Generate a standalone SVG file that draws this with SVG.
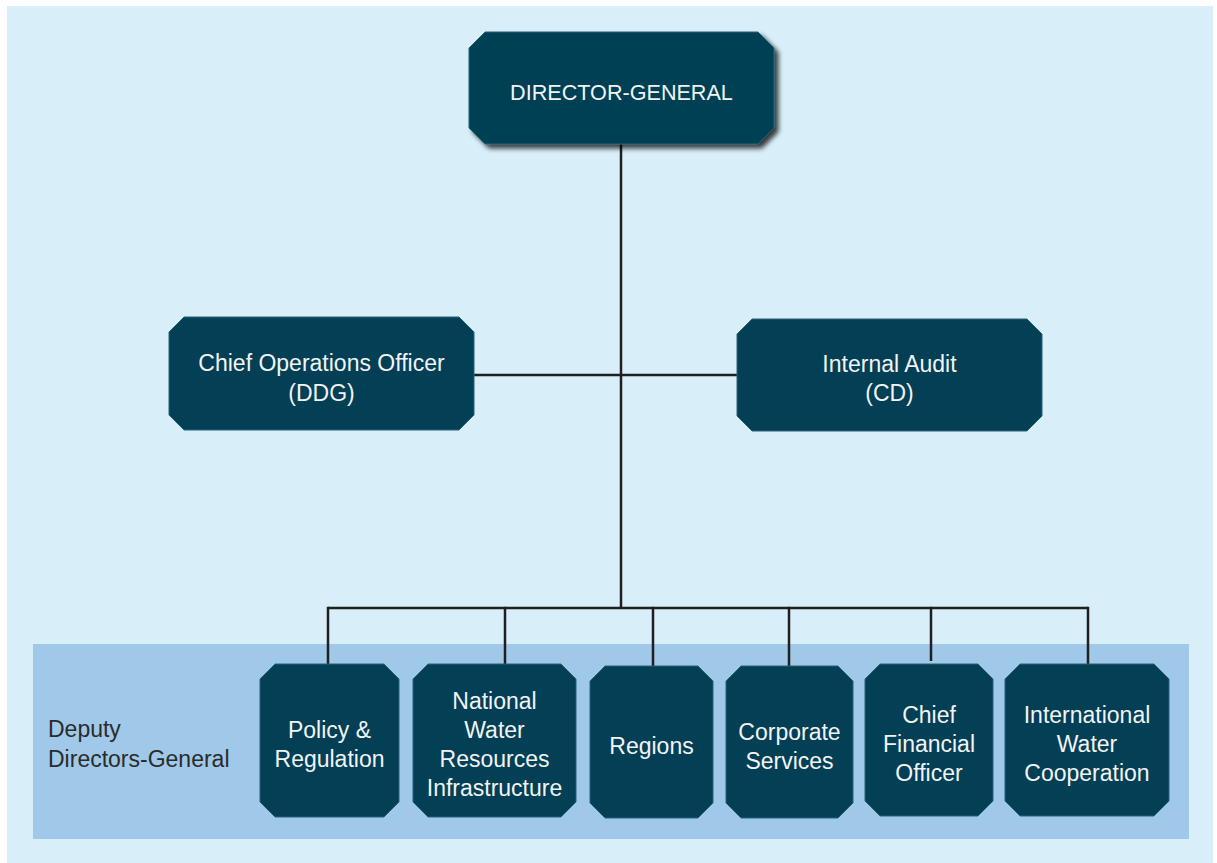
<svg xmlns="http://www.w3.org/2000/svg" width="1217" height="863" viewBox="0 0 1217 863">
<style>
.node{fill:#033f55;stroke:#2a6378;stroke-width:1}
.t{font-family:"Liberation Sans",Arial,sans-serif;font-size:23px;fill:#f2f4f4;text-anchor:middle}
.lbl{font-family:"Liberation Sans",Arial,sans-serif;font-size:23px;fill:#2b2b2b}
.conn{stroke:#1f1f1f;stroke-width:2.5;fill:none}
</style>
<defs>
<filter id="sh" x="-10%" y="-20%" width="130%" height="150%">
<feGaussianBlur in="SourceAlpha" stdDeviation="2.5"/>
<feOffset dx="4" dy="4" result="b"/>
<feComponentTransfer><feFuncA type="linear" slope="0.75"/></feComponentTransfer>
<feMerge><feMergeNode/><feMergeNode in="SourceGraphic"/></feMerge>
</filter>
</defs>
<rect x="0" y="0" width="1217" height="863" fill="#ffffff"/>
<rect x="7" y="6" width="1206" height="857" fill="#d8eff9"/>
<rect x="33" y="644" width="1156" height="195" fill="#9fc8e9"/>
<g id="connectors">
<path class="conn" d="M621,144 V608"/>
<path class="conn" d="M474,375 H737"/>
<path class="conn" d="M328,608 H1088"/>
<path class="conn" d="M328,606.8 V665"/>
<path class="conn" d="M505,606.8 V664"/>
<path class="conn" d="M653,606.8 V666"/>
<path class="conn" d="M789,606.8 V667"/>
<path class="conn" d="M931,606.8 V661"/>
<path class="conn" d="M1088,606.8 V665"/>
</g>
<g id="dg">
<polygon class="node" filter="url(#sh)" points="485,32 758,32 774,48 774,128 758,144 485,144 469,128 469,48"/>
<text class="t" x="621.5" y="99.5" style="font-size:21.6px">DIRECTOR-GENERAL</text>
</g>
<g id="coo">
<polygon class="node" points="184,317 459,317 474,332 474,415 459,430 184,430 169,415 169,332"/>
<text class="t" x="321.5" y="371">Chief Operations Officer</text>
<text class="t" x="321.5" y="400.5">(DDG)</text>
</g>
<g id="audit">
<polygon class="node" points="752,319 1027,319 1042,334 1042,416 1027,431 752,431 737,416 737,334"/>
<text class="t" x="889.5" y="372">Internal Audit</text>
<text class="t" x="889.5" y="401">(CD)</text>
</g>
<g id="ddg-label">
<text class="lbl" x="48" y="737">Deputy</text>
<text class="lbl" x="48" y="766.5">Directors-General</text>
</g>
<g id="policy">
<polygon class="node" points="275,664 384,664 399,679 399,802 384,817 275,817 260,802 260,679"/>
<text class="t" x="329.5" y="737.5">Policy &amp;</text>
<text class="t" x="329.5" y="767">Regulation</text>
</g>
<g id="nwri">
<polygon class="node" points="428,664 561,664 576,679 576,802 561,817 428,817 413,802 413,679"/>
<text class="t" x="494.5" y="708.5">National</text>
<text class="t" x="494.5" y="738">Water</text>
<text class="t" x="494.5" y="767">Resources</text>
<text class="t" x="494.5" y="796">Infrastructure</text>
</g>
<g id="regions">
<polygon class="node" points="605,666 698,666 713,681 713,803 698,818 605,818 590,803 590,681"/>
<text class="t" x="651.5" y="754">Regions</text>
</g>
<g id="corporate">
<polygon class="node" points="741,666 838,666 853,681 853,803 838,818 741,818 726,803 726,681"/>
<text class="t" x="789.5" y="740">Corporate</text>
<text class="t" x="789.5" y="768.5">Services</text>
</g>
<g id="cfo">
<polygon class="node" points="880,664 978,664 993,679 993,801 978,816 880,816 865,801 865,679"/>
<text class="t" x="929" y="723">Chief</text>
<text class="t" x="929" y="752">Financial</text>
<text class="t" x="929" y="780.5">Officer</text>
</g>
<g id="iwc">
<polygon class="node" points="1020,664 1154,664 1169,679 1169,801 1154,816 1020,816 1005,801 1005,679"/>
<text class="t" x="1087" y="723">International</text>
<text class="t" x="1087" y="752">Water</text>
<text class="t" x="1087" y="781">Cooperation</text>
</g>
</svg>
